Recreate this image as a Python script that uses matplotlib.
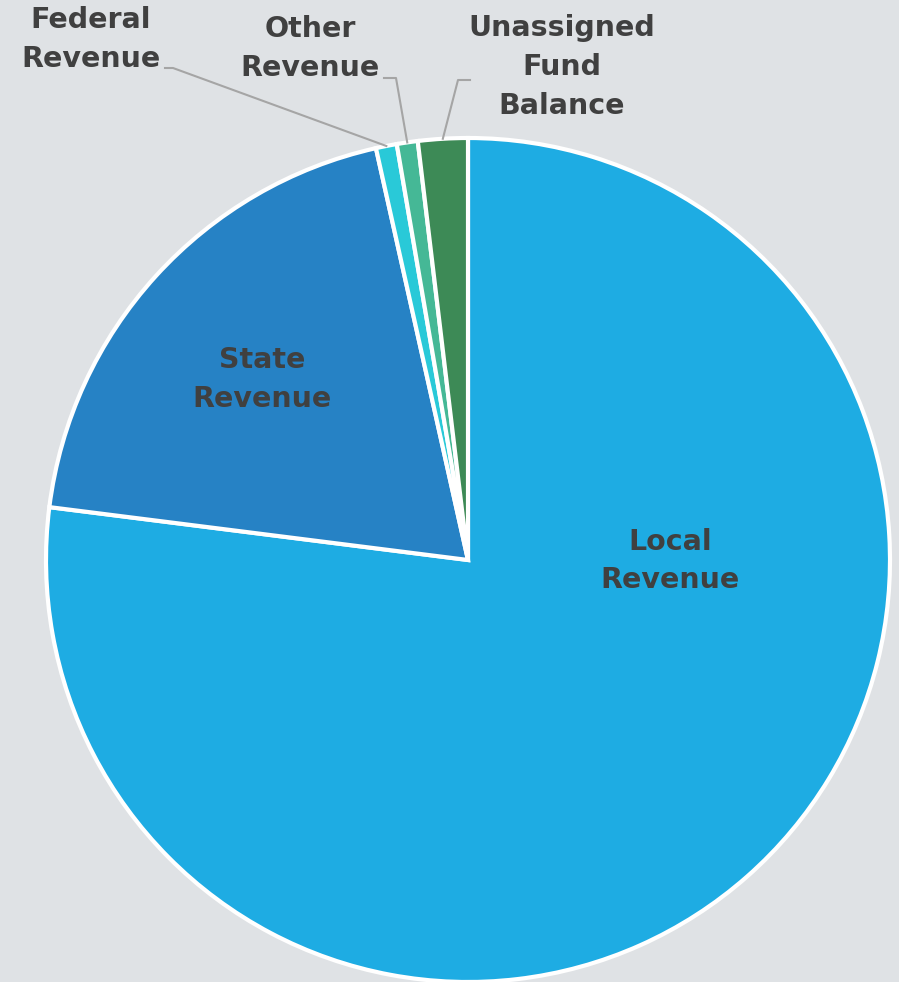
import numpy as np
import matplotlib.pyplot as plt

# revenue shares (%), drawn clockwise from 12 o'clock
categories = ["Local\nRevenue", "State\nRevenue", "Federal\nRevenue",
              "Other\nRevenue", "Unassigned\nFund\nBalance"]
shares = [77.0, 19.5, 0.8, 0.8, 1.9]
colors = ["#1EACE3", "#2682C5", "#29C9D8", "#45B896", "#3D8A56"]

bg = "#DFE2E5"
text_color = "#404040"

W, H = 899, 982
fig = plt.figure(figsize=(W / 100, H / 100), dpi=100, facecolor=bg)
ax = fig.add_axes([0, 0, 1, 1])
ax.set_facecolor(bg)

cx, cy, r = 468, H - 560, 422
wedges, _ = ax.pie(
    shares,
    colors=colors,
    startangle=90,
    counterclock=False,
    center=(cx, cy),
    radius=r,
    wedgeprops=dict(edgecolor="white", linewidth=3),
)
ax.set_xlim(0, W)
ax.set_ylim(0, H)
ax.set_aspect("equal")
ax.axis("off")

font = dict(fontsize=20.5, fontweight="bold", color=text_color,
            family=["DejaVu Sans"], ha="center", va="center",
            linespacing=1.5)

# labels inside the two big slices
ax.text(670, H - 561, categories[0], **font)
ax.text(262, H - 379, categories[1], **font)

# small slices get labels above the pie with leader lines
outside = {
    2: dict(pos=(91, 39), elbow=[(165, 68), (173, 68)]),
    3: dict(pos=(310, 48), elbow=[(384, 78), (396, 78)]),
    4: dict(pos=(562, 67), elbow=[(470, 80), (458, 80)]),
}
for i, spec in outside.items():
    ax.text(spec["pos"][0], H - spec["pos"][1], categories[i], **font)
    w = wedges[i]
    mid = np.deg2rad((w.theta1 + w.theta2) / 2)
    tip = (cx + r * np.cos(mid), cy + r * np.sin(mid))
    xs = [p[0] for p in spec["elbow"]] + [tip[0]]
    ys = [H - p[1] for p in spec["elbow"]] + [tip[1]]
    ax.plot(xs, ys, color="#A5A5A5", linewidth=1.5)

fig.savefig("out.png", dpi=100, facecolor=bg)
